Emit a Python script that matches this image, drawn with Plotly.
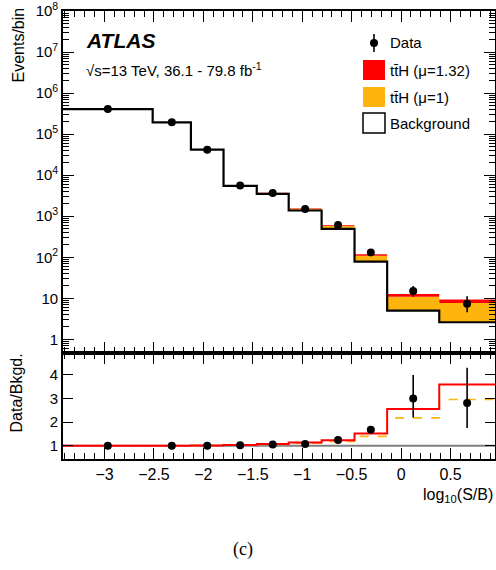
import plotly.graph_objects as go

# ---------------- data ----------------
bin_edges = [-3.42, -2.513, -2.126, -1.796, -1.460, -1.137, -0.804, -0.471, -0.141, 0.386, 0.95]
background = [4.1e5, 1.95e5, 4.2e4, 5.5e3, 3.5e3, 1.38e3, 490, 78, 5.0, 2.6]
signal_mu1 = [600, 700, 320, 125, 186, 146, 88, 31, 5.9, 5.1]
mu_fit = 1.32
data = [4.1e5, 1.95e5, 4.2e4, 5.65e3, 3.68e3, 1.49e3, 612, 131, 15, 7.3]
data_err_lo = [640, 440, 205, 75, 61, 39, 25, 11, 4.0, 2.75]
data_err_hi = [640, 440, 205, 75, 61, 39, 25, 12, 5.0, 3.9]

y_tickvals = [1, 10, 100, 1e3, 1e4, 1e5, 1e6, 1e7, 1e8]
y_ticktext = ["1", "10", "10<sup>2</sup>", "10<sup>3</sup>", "10<sup>4</sup>",
              "10<sup>5</sup>", "10<sup>6</sup>", "10<sup>7</sup>", "10<sup>8</sup>"]
ratio_tickvals = [1, 2, 3, 4]

legend_labels = ["Data", "tt\u0304H (\u03bc=1.32)", "tt\u0304H (\u03bc=1)", "Background"]

# ---------------- derived quantities ----------------
centers = [(a + b) / 2 for a, b in zip(bin_edges[:-1], bin_edges[1:])]
stack_mu1 = [b + s for b, s in zip(background, signal_mu1)]
stack_fit = [b + mu_fit * s for b, s in zip(background, signal_mu1)]
ratio_mu1 = [s / b for s, b in zip(stack_mu1, background)]
ratio_fit = [s / b for s, b in zip(stack_fit, background)]
ratio_data = [d / b for d, b in zip(data, background)]
ratio_err_lo = [e / b for e, b in zip(data_err_lo, background)]
ratio_err_hi = [e / b for e, b in zip(data_err_hi, background)]


def ext(v):
    return list(v) + [v[-1]]


RED = "#FF0000"
ORANGE = "#FDB40C"
FONT = "Liberation Sans, Arial, Helvetica, sans-serif"

fig = go.Figure()

# main panel: stacked signal fills
fig.add_trace(go.Scatter(x=bin_edges, y=ext(background), mode="lines", line=dict(width=0, shape="hv"),
                         showlegend=False, hoverinfo="skip", xaxis="x", yaxis="y"))
fig.add_trace(go.Scatter(x=bin_edges, y=ext(stack_mu1), mode="lines", line=dict(width=0, shape="hv"),
                         fill="tonexty", fillcolor=ORANGE, showlegend=False, xaxis="x", yaxis="y"))
fig.add_trace(go.Scatter(x=bin_edges, y=ext(stack_fit), mode="lines", line=dict(width=0, shape="hv"),
                         fill="tonexty", fillcolor=RED, showlegend=False, xaxis="x", yaxis="y"))
# background outline
fig.add_trace(go.Scatter(x=bin_edges, y=ext(background), mode="lines",
                         line=dict(width=2.2, color="black", shape="hv"),
                         showlegend=False, xaxis="x", yaxis="y"))
# data
fig.add_trace(go.Scatter(x=centers, y=data, mode="markers",
                         marker=dict(color="black", size=8),
                         error_y=dict(type="data", symmetric=False, array=data_err_hi,
                                      arrayminus=data_err_lo, color="black", thickness=1.6, width=0),
                         showlegend=False, xaxis="x", yaxis="y"))

# ratio panel
fig.add_trace(go.Scatter(x=[bin_edges[0], bin_edges[-1]], y=[1, 1], mode="lines",
                         line=dict(width=2, color="#7f7f7f"), showlegend=False, xaxis="x2", yaxis="y2"))
fig.add_trace(go.Scatter(x=bin_edges, y=ext(ratio_mu1), mode="lines",
                         line=dict(width=1.6, color=ORANGE, shape="hv", dash="dash"),
                         showlegend=False, xaxis="x2", yaxis="y2"))
fig.add_trace(go.Scatter(x=bin_edges, y=ext(ratio_fit), mode="lines",
                         line=dict(width=2, color=RED, shape="hv"),
                         showlegend=False, xaxis="x2", yaxis="y2"))
fig.add_trace(go.Scatter(x=centers, y=ratio_data, mode="markers",
                         marker=dict(color="black", size=8),
                         error_y=dict(type="data", symmetric=False, array=ratio_err_hi,
                                      arrayminus=ratio_err_lo, color="black", thickness=1.6, width=0),
                         showlegend=False, xaxis="x2", yaxis="y2"))

# ---------------- layout ----------------
W, H = 496, 570
ML, MT = 63, 11
PLOT_R, PLOT_B = 495, 459
MR, MB = W - PLOT_R, H - PLOT_B
PW, PH = PLOT_R - ML, PLOT_B - MT
split = (459 - 352.7) / PH


def px(xp):  # reference pixel -> paper
    return (xp - ML) / PW


def py(yp):
    return (PLOT_B - yp) / PH


axis_common = dict(showline=True, linecolor="black", linewidth=1.6, mirror="allticks",
                   ticks="inside", tickcolor="black", showgrid=False, zeroline=False,
                   automargin=False,
                   tickfont=dict(size=15, color="black", family=FONT))

minor_log = [m * 10 ** k for k in range(-1, 8) for m in range(2, 10)]

fig.update_layout(
    width=W, height=H, margin=dict(l=ML, r=MR, t=MT, b=MB, autoexpand=False),
    paper_bgcolor="white", plot_bgcolor="white",
    font=dict(family=FONT, color="black"),
    xaxis=dict(axis_common, domain=[0, 1], anchor="y", range=[bin_edges[0], bin_edges[-1]],
               dtick=0.5, tick0=0, ticklen=11, showticklabels=False, matches="x2",
               minor=dict(ticks="inside", dtick=0.1, tick0=0, ticklen=6, tickcolor="black", showgrid=False)),
    yaxis=dict(axis_common, domain=[split, 1], anchor="x", type="log", range=[-0.327, 8.003],
               tickmode="array", tickvals=y_tickvals, ticktext=y_ticktext, ticklen=11,
               ticklabeloverflow="allow",
               minor=dict(ticks="inside", tickmode="array", tickvals=minor_log, ticklen=6,
                          tickcolor="black", showgrid=False)),
    xaxis2=dict(axis_common, domain=[0, 1], anchor="y2", range=[bin_edges[0], bin_edges[-1]],
                dtick=0.5, tick0=0, ticklen=11, ticklabeloverflow="allow",
                tickfont=dict(size=16, color="black", family=FONT),
                minor=dict(ticks="inside", dtick=0.1, tick0=0, ticklen=6, tickcolor="black", showgrid=False)),
    yaxis2=dict(axis_common, domain=[0, split], anchor="x2", range=[0.44, 4.94],
                tickmode="array", tickvals=ratio_tickvals, ticklen=10),
)

ann = []
ann.append(dict(text="<b><i>ATLAS</i></b>", x=px(84), y=py(40), xref="paper", yref="paper",
                xanchor="left", yanchor="middle", showarrow=False, font=dict(size=21, family=FONT)))
ann.append(dict(text="\u221as=13 TeV, 36.1 - 79.8 fb<sup>-1</sup>", x=px(84), y=py(69), xref="paper", yref="paper",
                xanchor="left", yanchor="middle", showarrow=False, font=dict(size=15, family=FONT)))
ann.append(dict(text="Events/bin", x=px(18), y=py(6), xref="paper", yref="paper", textangle=-90,
                xanchor="center", yanchor="top", showarrow=False, font=dict(size=16, family=FONT)))
ann.append(dict(text="Data/Bkgd.", x=px(16), y=py(352), xref="paper", yref="paper", textangle=-90,
                xanchor="center", yanchor="top", showarrow=False, font=dict(size=16, family=FONT)))
ann.append(dict(text="log<sub>10</sub>(S/B)", x=px(495), y=py(495), xref="paper", yref="paper",
                xanchor="right", yanchor="middle", showarrow=False, font=dict(size=16, family=FONT)))
ann.append(dict(text="(c)", x=px(243), y=py(549), xref="paper", yref="paper",
                xanchor="center", yanchor="middle", showarrow=False,
                font=dict(size=18, family="Liberation Serif, DejaVu Serif, serif")))

# legend (drawn manually in ROOT style)
leg_text_x = px(388)
leg_rows = [43, 70, 97, 123]
for lab, yrow in zip(legend_labels, leg_rows):
    ann.append(dict(text=lab, x=leg_text_x, y=py(yrow), xref="paper", yref="paper",
                    xanchor="left", yanchor="middle", showarrow=False, font=dict(size=15, family=FONT)))

shapes = []
# data marker in legend
shapes.append(dict(type="line", xref="paper", yref="paper", x0=px(374), x1=px(374), y0=py(34), y1=py(52),
                   line=dict(color="black", width=1.6)))
shapes.append(dict(type="circle", xref="paper", yref="paper", xsizemode="pixel", ysizemode="pixel",
                   xanchor=px(374), yanchor=py(43), x0=-4, x1=4, y0=-4, y1=4,
                   fillcolor="black", line=dict(color="black", width=0)))
# boxes
box_fill = [RED, ORANGE, "white"]
for fc, yrow in zip(box_fill, leg_rows[1:]):
    shapes.append(dict(type="rect", xref="paper", yref="paper", x0=px(363), x1=px(385),
                       y0=py(yrow + 10), y1=py(yrow - 10), fillcolor=fc,
                       line=dict(color="black" if fc == "white" else fc, width=1.5 if fc == "white" else 0)))

fig.update_layout(annotations=ann, shapes=shapes)

# remove the default page margin so the 496x570 figure fills the window exactly
page_fix = ("document.body.style.margin='0';document.body.style.overflow='hidden';"
            "document.documentElement.style.overflow='hidden';")
fig.write_html("out.html", post_script=page_fix, config={"displayModeBar": False})
